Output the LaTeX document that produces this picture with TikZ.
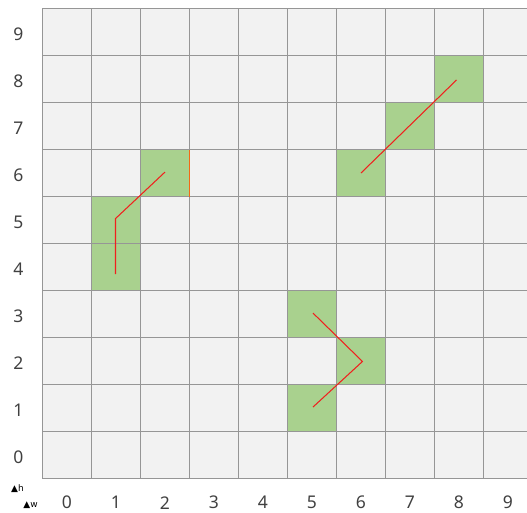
\documentclass[tikz,border=0pt]{standalone}
\usepackage{fontspec}
\setmainfont{Noto Sans}
\newfontfamily\symfont{DejaVu Sans}
\usetikzlibrary{calc}
\definecolor{cellgray}{RGB}{242,242,242}
\definecolor{gridline}{RGB}{150,150,150}
\definecolor{cellgreen}{RGB}{169,209,142}
\definecolor{pathred}{RGB}{240,32,30}
\definecolor{edgeorange}{RGB}{245,105,20}
\definecolor{labeltext}{RGB}{64,64,64}
\tikzset{
  board/.style={fill=cellgray},
  hit cell/.style={fill=cellgreen},
  grid lines/.style={draw=gridline,line width=1.2pt},
  route/.style={draw=pathred,line width=1.05pt},
  edge mark/.style={draw=edgeorange,line width=1.6pt},
  axislabel/.style={font=\fontsize{17.5}{19}\selectfont,text=labeltext,inner sep=0pt},
  tinylabel/.style={font=\symfont\fontsize{9}{10}\selectfont,text=black,inner sep=0pt}
}

\begin{document}
\begin{tikzpicture}[x=49pt,y=47pt]
  \useasboundingbox (-0.8673,-0.7128) rectangle (9.888,10.181);

  % Board and marked cells.
  \fill[board] (0,0) rectangle (10,10);
  \foreach \c/\r in {1/4,1/5,2/6,5/1,6/2,5/3,6/6,7/7,8/8} {
    \fill[hit cell] (\c,\r) rectangle ++(1,1);
  }
  \foreach \k in {0,...,10} {
    \draw[grid lines] (\k,0) -- (\k,10);
    \draw[grid lines] (0,\k) -- (10,\k);
  }

  % Axis numbers.
  \foreach \i in {0,...,9} {
    \node[axislabel] (row\i) at (-0.494,\i+0.45) {\i};
    \node[axislabel] (col\i) at (\i+0.5,-0.515) {\i};
  }
  \node[tinylabel] (hmark) at (-0.51,-0.223) {▲h};
  \node[tinylabel] (wmark) at (-0.245,-0.574) {▲w};

  % Red routes through the marked cells.
  \coordinate (a1) at (1.49,4.35);
  \coordinate (a2) at (1.49,5.53);
  \coordinate (a3) at (2.5,6.52);
  \coordinate (b1) at (5.52,3.52);
  \coordinate (b2) at (6.53,2.49);
  \coordinate (b3) at (5.52,1.52);
  \coordinate (c1) at (6.5,6.5);
  \coordinate (c2) at (8.45,8.48);
  \draw[route] (a1) -- (a2) -- (a3);
  \draw[route] (b1) -- (b2) -- (b3);
  \draw[route] (c1) -- (c2);

  % Orange edge of the cell at (2,6).
  \coordinate (e1) at (3,6);
  \coordinate (e2) at (3,7);
  \draw[edge mark] (e1) -- (e2);
\end{tikzpicture}
\end{document}
